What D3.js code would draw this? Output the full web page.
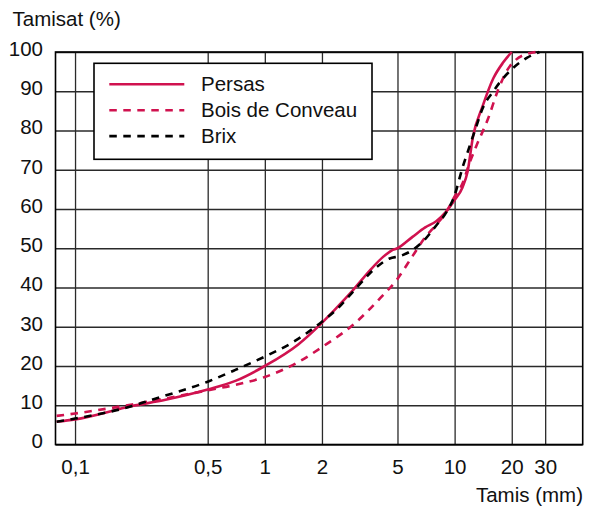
<!DOCTYPE html>
<html>
<head>
<meta charset="utf-8">
<script src="https://cdn.jsdelivr.net/npm/d3@7"></script>
<style>
  html, body { margin: 0; padding: 0; background: #fff; }
  svg { display: block; font-family: "Liberation Sans", Arial, Helvetica, sans-serif; }
</style>
</head>
<body>
<svg id="chart" width="590" height="511"></svg>
<script>
// Sieve sizes (mm) shown as grid lines and labels
const xTicks = [0.1, 0.5, 1, 2, 5, 10, 20, 30];
const xTickLabels = ["0,1", "0,5", "1", "2", "5", "10", "20", "30"];
const yTicks = [0, 10, 20, 30, 40, 50, 60, 70, 80, 90, 100];

// Grading curves: sieve opening (mm) and percentage passing
const persasSize  = [0.08, 0.1, 0.2, 0.3, 0.5, 0.7, 1, 1.5, 2, 2.3, 2.9, 3.6, 4.2, 4.65, 5, 6, 7, 8, 9, 10, 11, 11.7, 12.5, 14, 16, 18, 20];
const persasPass  = [5.8, 6.4, 9.8, 11.4, 14, 16.2, 20, 25.5, 31, 34.0, 39.2, 44.5, 47.8, 49.4, 50, 52.9, 55.3, 56.9, 59.3, 62.3, 65.5, 69.5, 78.5, 86, 93.3, 97.3, 100];

const boisSize    = [0.08, 0.1, 0.2, 0.5, 0.7, 1, 1.5, 2, 3, 4, 5, 6, 7, 8, 9, 10, 11, 12, 13, 15, 17, 19, 21, 24, 27];
const boisPass    = [7.3, 7.9, 10.2, 13.8, 15.2, 17.2, 21, 24.8, 31, 37, 42.2, 48, 52.8, 56, 59.1, 63.2, 66.5, 71.8, 76, 83, 90.5, 95.5, 98, 99.5, 100];

const brixSize    = [0.08, 0.1, 0.2, 0.25, 0.5, 0.7, 1, 1.4, 2, 2.4, 3, 3.9, 4.55, 5.15, 5.8, 6.8, 8, 9, 10, 11, 12, 13, 14, 16, 18, 20, 24, 28];
const brixPass    = [5.8, 6.6, 9.8, 11.3, 16, 19, 22.4, 26, 31.3, 34.5, 39.6, 45.3, 47.4, 48, 49.1, 51.7, 55.8, 59, 63.5, 70.5, 76, 81, 85.5, 90, 93.3, 95.6, 98.5, 100];

const seriesNames = ["Persas", "Bois de Conveau", "Brix"];

const RED = "#d0124f";
const BLACK = "#000";
const FONT = 20.5;

const svg = d3.select("#chart");
const plotL = 55.5, plotR = 582.7, plotT = 52, plotB = 444.5;

const x = d3.scaleLog().domain([0.0789, 47.3]).range([plotL, plotR]);
const y = d3.scaleLinear().domain([0, 100]).range([plotB, plotT]);

// Vertical grid + bottom labels
const xAxis = d3.axisBottom(x)
  .tickValues(xTicks)
  .tickFormat((d, i) => xTickLabels[i])
  .tickSizeInner(-(plotB - plotT))
  .tickSizeOuter(0)
  .tickPadding(15);
const gx = svg.append("g").attr("transform", `translate(0,${plotB})`).call(xAxis);
gx.select(".domain").remove();
gx.selectAll(".tick line").attr("stroke", "#2a2a2a").attr("stroke-width", 1.3);
gx.selectAll(".tick text").attr("fill", "#111").attr("font-size", FONT)
  .attr("font-family", "Liberation Sans, Arial, sans-serif");

// Horizontal grid + left labels
const yAxis = d3.axisLeft(y)
  .tickValues(yTicks)
  .tickFormat(d3.format("d"))
  .tickSizeInner(-(plotR - plotL))
  .tickSizeOuter(0)
  .tickPadding(12.5);
const gy = svg.append("g").attr("transform", `translate(${plotL},0)`).call(yAxis);
gy.select(".domain").remove();
gy.selectAll(".tick line").attr("stroke", "#2a2a2a").attr("stroke-width", 1.3);
gy.selectAll(".tick text").attr("fill", "#111").attr("font-size", FONT).attr("dy", "0.16em")
  .attr("font-family", "Liberation Sans, Arial, sans-serif");

// Plot frame
svg.append("rect")
  .attr("x", plotL).attr("y", plotT)
  .attr("width", plotR - plotL).attr("height", plotB - plotT)
  .attr("fill", "none").attr("stroke", "#000").attr("stroke-width", 1.6);

// Curves
const line = d3.line()
  .x(d => x(d[0]))
  .y(d => y(d[1]))
  .curve(d3.curveMonotoneX);

const series = [
  { name: seriesNames[0], pts: d3.zip(persasSize, persasPass), color: RED, dash: null },
  { name: seriesNames[1], pts: d3.zip(boisSize, boisPass), color: RED, dash: "7.5,6.5" },
  { name: seriesNames[2], pts: d3.zip(brixSize, brixPass), color: BLACK, dash: "7.5,6.5" }
];

const plot = svg.append("g");
plot.append("defs").append("clipPath").attr("id", "clip")
  .append("rect").attr("x", plotL).attr("y", plotT - 3).attr("width", plotR - plotL).attr("height", plotB - plotT + 3);

// Draw Bois de Conveau first, then Persas and Brix on top
[series[1], series[0], series[2]].forEach(s => {
  plot.append("path")
    .datum(s.pts)
    .attr("d", line)
    .attr("fill", "none")
    .attr("stroke", s.color)
    .attr("stroke-width", 2.6)
    .attr("stroke-dasharray", s.dash)
    .attr("clip-path", "url(#clip)");
});

// Legend
const lg = svg.append("g");
lg.append("rect")
  .attr("x", 94).attr("y", 63.3).attr("width", 278).attr("height", 96)
  .attr("fill", "#fff").attr("stroke", "#000").attr("stroke-width", 1.6);
series.forEach((s, i) => {
  const yy = 84.3 + i * 25.9;
  lg.append("line")
    .attr("x1", 109.3).attr("x2", 184.3).attr("y1", yy).attr("y2", yy)
    .attr("stroke", s.color).attr("stroke-width", 2.6)
    .attr("stroke-dasharray", s.dash);
  lg.append("text")
    .attr("x", 201).attr("y", yy).attr("dy", "0.35em")
    .attr("font-size", FONT).attr("fill", "#111")
    .text(s.name);
});

// Axis titles
svg.append("text").attr("x", 12.5).attr("y", 25.5)
  .attr("font-size", FONT).attr("fill", "#111").text("Tamisat (%)");
svg.append("text").attr("x", 583).attr("y", 502).attr("text-anchor", "end")
  .attr("font-size", FONT).attr("fill", "#111").text("Tamis (mm)");
</script>
</body>
</html>
